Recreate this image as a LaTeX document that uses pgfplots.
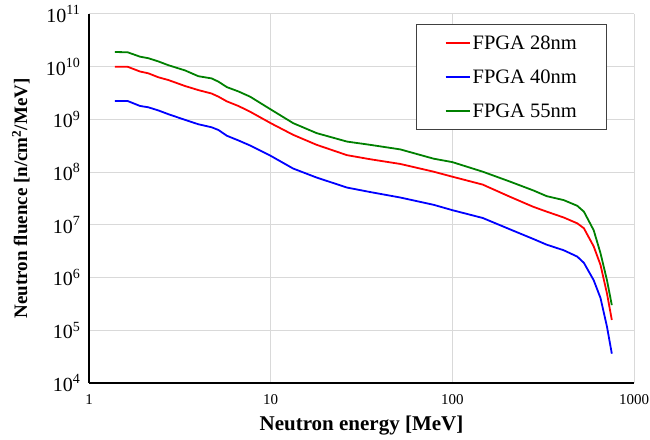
\documentclass[border=0pt]{standalone}
\usepackage{pgfplots}
\usepackage{pgfplotstable}
\pgfplotsset{compat=1.18}
\usepackage{fontspec}
\setmainfont{Liberation Serif}
\definecolor{dgreen}{RGB}{0,128,0}

\pgfplotstableread{
E     F
1.39  1.0e10
1.63  1.0e10
1.91  8.1e9
2.12  7.5e9
2.41  6.3e9
2.73  5.6e9
3.38  4.3e9
4.0   3.6e9
4.73  3.1e9
5.16  2.7e9
5.74  2.2e9
6.64  1.8e9
7.71  1.4e9
10.0  8.5e8
13.3  5.1e8
17.9  3.3e8
26.3  2.1e8
35.2  1.76e8
51.7  1.43e8
78.9  1.02e8
100   8.2e7
147   5.8e7
208   3.4e7
279   2.2e7
331   1.78e7
410   1.38e7
487   1.07e7
530   8.6e6
600   3.9e6
654   1.74e6
710   5.0e5
755   1.57e5
}\dataA

\pgfplotstableread{
E     F
1.39  2.24e9
1.63  2.24e9
1.91  1.8e9
2.12  1.7e9
2.41  1.48e9
2.73  1.26e9
3.38  9.8e8
4.0   8.1e8
4.73  7.1e8
5.16  6.3e8
5.74  4.9e8
6.64  4.0e8
7.71  3.2e8
10.0  2.04e8
13.3  1.17e8
17.9  7.9e7
26.3  5.1e7
35.2  4.2e7
51.7  3.3e7
78.9  2.4e7
100   1.9e7
147   1.35e7
208   8.2e6
279   5.4e6
331   4.2e6
410   3.3e6
487   2.5e6
530   1.9e6
600   8.9e5
654   4.1e5
710   1.17e5
755   3.6e4
}\dataB

\pgfplotstableread{
E     F
1.39  1.9e10
1.63  1.88e10
1.91  1.55e10
2.12  1.45e10
2.41  1.26e10
2.73  1.07e10
3.38  8.5e9
4.0   6.6e9
4.73  6.0e9
5.16  5.2e9
5.74  4.1e9
6.64  3.4e9
7.71  2.7e9
10.0  1.55e9
13.3  8.5e8
17.9  5.5e8
26.3  3.8e8
35.2  3.3e8
51.7  2.7e8
78.9  1.8e8
100   1.55e8
147   1.02e8
208   6.6e7
279   4.5e7
331   3.5e7
410   2.95e7
487   2.3e7
530   1.78e7
600   7.9e6
654   2.9e6
710   8.9e5
755   3.0e5
}\dataC

\begin{document}
\begin{tikzpicture}
\useasboundingbox (0,0) rectangle (650pt,439pt);
\begin{axis}[
  at={(89pt,56pt)}, anchor=south west,
  scale only axis, width=545pt, height=369pt,
  xmode=log, ymode=log,
  xmin=1, xmax=1000, ymin=1e4, ymax=1e11,
  axis x line*=bottom, axis y line*=left,
  axis line style={black, line width=1.5pt, -},
  grid=major, major grid style={black!15, line width=1pt},
  xminorticks=false, yminorticks=false,
  major tick length=0pt,
  xtick={1,10,100,1000}, xticklabels={1,10,100,1000},
  ytick={1e4,1e5,1e6,1e7,1e8,1e9,1e10,1e11},
  yticklabels={10\textsuperscript{4},10\textsuperscript{5},10\textsuperscript{6},10\textsuperscript{7},10\textsuperscript{8},10\textsuperscript{9},10\textsuperscript{10},10\textsuperscript{11}},
  xticklabel style={font=\fontsize{15}{17}\selectfont, yshift=-8pt},
  yticklabel style={font=\fontsize{20}{22}\selectfont, xshift=-5pt},
  xlabel={Neutron energy [MeV]},
  ylabel={Neutron fluence [n/cm\textsuperscript{2}/MeV]},
  xlabel style={font=\fontsize{21}{24}\selectfont\bfseries, at={(axis description cs:0.5,-0.1165)}, anchor=center},
  ylabel style={font=\fontsize{19}{22}\selectfont\bfseries, at={(axis description cs:-0.125,0.5)}, anchor=center, rotate=0},
  legend cell align=left,
  legend style={at={(axis description cs:0.6,0.973)}, anchor=north west,
    draw=black!75, line width=1.2pt, font=\fontsize{20.5}{23}\selectfont,
    inner xsep=28pt, inner ysep=9pt, row sep=15pt},
  legend image code/.code={\draw[line width=2pt] (0pt,0pt) -- (24pt,0pt);},
]
\addplot[red, line width=1.8pt] table[x=E,y=F] {\dataA};
\addlegendentry{FPGA 28nm}
\addplot[blue, line width=1.8pt] table[x=E,y=F] {\dataB};
\addlegendentry{FPGA 40nm}
\addplot[dgreen, line width=1.8pt] table[x=E,y=F] {\dataC};
\addlegendentry{FPGA 55nm}
\end{axis}
\end{tikzpicture}
\end{document}
